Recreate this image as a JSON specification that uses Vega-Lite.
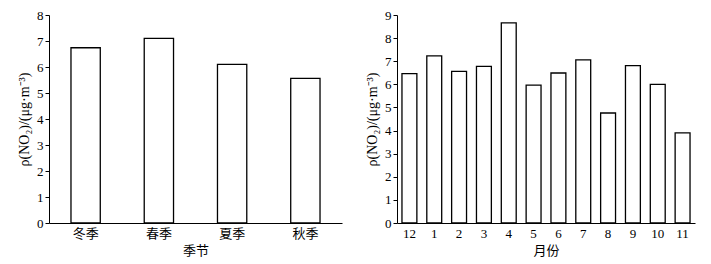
{
  "$schema": "https://vega.github.io/schema/vega-lite/v6.json",
  "padding": {"left": 17, "top": 9, "right": 5, "bottom": 5},
  "spacing": 23,
  "background": "white",
  "config": {
    "view": {"stroke": null},
    "axis": {
      "grid": false,
      "domainColor": "black",
      "tickColor": "black",
      "labelColor": "black",
      "titleColor": "black",
      "labelFont": "Liberation Serif",
      "titleFont": "Liberation Serif",
      "labelFontSize": 13,
      "titleFontSize": 14,
      "titleFontWeight": "normal"
    }
  },
  "hconcat": [
    {
      "width": 293,
      "height": 208,
      "data": {"values": [
        {"season": "冬季", "v": 6.74},
        {"season": "春季", "v": 7.1},
        {"season": "夏季", "v": 6.1},
        {"season": "秋季", "v": 5.56}
      ]},
      "mark": {"type": "bar", "fill": "white", "stroke": "black", "strokeWidth": 1.3},
      "encoding": {
        "x": {"field": "season", "type": "nominal", "sort": null,
              "scale": {"paddingInner": 0.6, "paddingOuter": 0.3},
              "axis": {"title": "季节", "labelAngle": 0, "ticks": false, "labelPadding": 4,
                       "labelFont": "Noto Sans CJK SC", "titleFont": "Noto Sans CJK SC", "titleFontSize": 13, "titlePadding": 4}},
        "y": {"field": "v", "type": "quantitative",
              "scale": {"domain": [0, 8]},
              "axis": {"title": "ρ(NO₂)/(μg·m⁻³)", "values": [0,1,2,3,4,5,6,7,8], "tickSize": 4, "labelPadding": 2, "titlePadding": 5}}
      }
    },
    {
      "width": 298,
      "height": 208,
      "data": {"values": [
        {"m": "12", "v": 6.46},
        {"m": "1", "v": 7.23},
        {"m": "2", "v": 6.56},
        {"m": "3", "v": 6.78},
        {"m": "4", "v": 8.66},
        {"m": "5", "v": 5.97},
        {"m": "6", "v": 6.49},
        {"m": "7", "v": 7.06},
        {"m": "8", "v": 4.76},
        {"m": "9", "v": 6.81},
        {"m": "10", "v": 6.0},
        {"m": "11", "v": 3.9}
      ]},
      "mark": {"type": "bar", "fill": "white", "stroke": "black", "strokeWidth": 1.3},
      "encoding": {
        "x": {"field": "m", "type": "nominal", "sort": null,
              "scale": {"paddingInner": 0.4, "paddingOuter": 0.2},
              "axis": {"title": "月份", "labelAngle": 0, "ticks": false, "labelPadding": 4,
                       "titleFont": "Noto Sans CJK SC", "titleFontSize": 13, "titlePadding": 4}},
        "y": {"field": "v", "type": "quantitative",
              "scale": {"domain": [0, 9]},
              "axis": {"title": "ρ(NO₂)/(μg·m⁻³)", "values": [0,1,2,3,4,5,6,7,8,9], "tickSize": 4, "labelPadding": 2, "titlePadding": 5}}
      }
    }
  ]
}
